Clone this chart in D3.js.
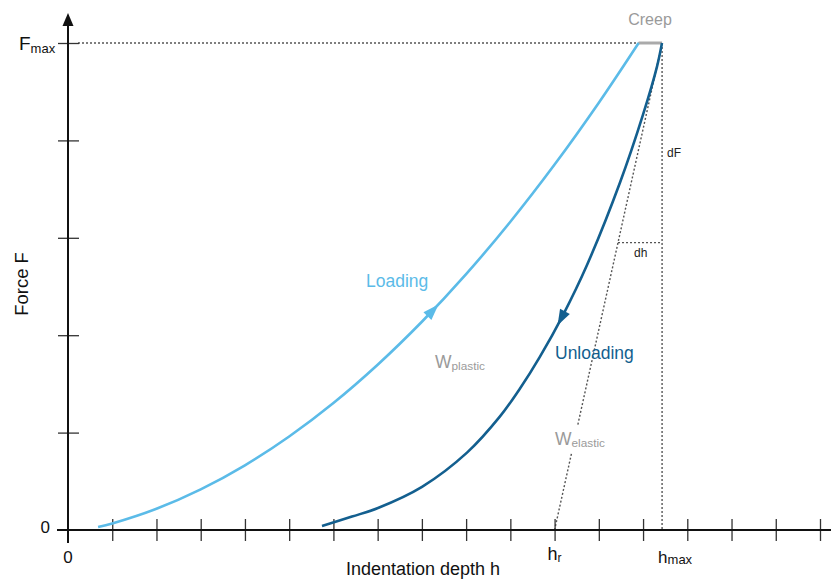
<!DOCTYPE html>
<html>
<head>
<meta charset="utf-8">
<script src="https://cdn.jsdelivr.net/npm/d3@7"></script>
<style>
  html, body { margin: 0; padding: 0; background: #fff; }
  svg { display: block; font-family: "Liberation Sans", Arial, Helvetica, sans-serif; }
</style>
</head>
<body>
<svg id="chart" width="831" height="580"></svg>
<script>
// Indentation depth h (tick units) and force F (Fmax = 5)
const loadingH = [0.68, 1.0, 2.0, 3.0, 4.0, 5.0, 6.0, 7.0, 8.0, 9.0, 10.0, 11.0, 12.0, 12.9];
const loadingF = [0.030, 0.067, 0.218, 0.417, 0.664, 0.960, 1.304, 1.697, 2.138, 2.627, 3.165, 3.752, 4.387, 5.0];
const unloadingH = [5.742, 6.420, 7.008, 8.003, 9.020, 9.766, 10.218, 10.670, 11.190, 11.733, 12.479, 12.999, 13.315, 13.428];
const unloadingF = [0.041, 0.138, 0.226, 0.443, 0.794, 1.166, 1.452, 1.780, 2.207, 2.721, 3.568, 4.265, 4.758, 5.0];
const xTicks = [1, 2, 3, 4, 5, 6, 7, 8, 9, 10, 11, 12, 13, 14, 15, 16, 17];
const yTicks = [1, 2, 3, 4, 5];
const Fmax = 5;
const hmax = 13.43;
const hr = 11.0;
const creepStart = 12.9;
const dhLevel = 2.95;

const svg = d3.select("#chart");
const x = d3.scaleLinear().domain([0, 17]).range([68, 820]);
const y = d3.scaleLinear().domain([0, 5]).range([530, 43]);

const cLoad = "#5bbbe8", cUnload = "#135f8f", cGray = "#9a9a9a", cDot = "#555";

// Reference guides
function dotted(x1, y1, x2, y2) {
  svg.append("line")
    .attr("x1", x1).attr("y1", y1).attr("x2", x2).attr("y2", y2)
    .attr("stroke", cDot).attr("stroke-width", 1.4).attr("stroke-dasharray", "2,2");
}
dotted(x(0) + 10, y(Fmax), x(creepStart), y(Fmax));
dotted(x(hmax), y(Fmax), x(hmax), y(0));
// tangent to unloading at hmax, meeting the axis at hr
dotted(x(hr), y(0), x(hmax), y(Fmax));
const hAtDh = hr + (hmax - hr) * dhLevel / Fmax;
dotted(x(hAtDh), y(dhLevel), x(hmax), y(dhLevel));

// Creep segment
svg.append("line")
  .attr("x1", x(creepStart)).attr("x2", x(hmax))
  .attr("y1", y(Fmax)).attr("y2", y(Fmax))
  .attr("stroke", "#aaa").attr("stroke-width", 3);

// Axes
const xAxis = d3.axisBottom(x).tickValues(xTicks).tickSize(22).tickFormat("");
const gx = svg.append("g").attr("transform", `translate(0,${y(0) - 11})`).call(xAxis);
gx.select(".domain").remove();
gx.selectAll(".tick line").attr("stroke", "#333").attr("stroke-width", 1.3);

const yAxis = d3.axisLeft(y).tickValues(yTicks).tickSize(21).tickFormat("");
const gy = svg.append("g").attr("transform", `translate(${x(0) + 11},0)`).call(yAxis);
gy.select(".domain").remove();
gy.selectAll(".tick line").attr("stroke", "#333").attr("stroke-width", 1.3);

svg.append("line").attr("x1", 57).attr("x2", 831).attr("y1", y(0)).attr("y2", y(0))
  .attr("stroke", "#111").attr("stroke-width", 2);
svg.append("line").attr("x1", x(0)).attr("x2", x(0)).attr("y1", 24).attr("y2", 543)
  .attr("stroke", "#111").attr("stroke-width", 2);
svg.append("path")
  .attr("d", `M${x(0)},13 L${x(0) - 5.5},26 L${x(0) + 5.5},26 Z`)
  .attr("fill", "#111");

// Curves
const line = d3.line().x(d => x(d[0])).y(d => y(d[1])).curve(d3.curveCatmullRom.alpha(0.5));
const loadPts = loadingH.map((h, i) => [h, loadingF[i]]);
const unloadPts = unloadingH.map((h, i) => [h, unloadingF[i]]);

const loadPath = svg.append("path").attr("d", line(loadPts))
  .attr("fill", "none").attr("stroke", cLoad).attr("stroke-width", 2.6);
const unloadPath = svg.append("path").attr("d", line(unloadPts))
  .attr("fill", "none").attr("stroke", cUnload).attr("stroke-width", 2.6);

// Direction arrows placed on the curves
function arrowAt(pathSel, targetH, color, reverse) {
  const node = pathSel.node();
  const total = node.getTotalLength();
  const tx = x(targetH);
  let lo = 0, hi = total;
  for (let i = 0; i < 40; i++) {
    const mid = (lo + hi) / 2;
    if (node.getPointAtLength(mid).x < tx) lo = mid; else hi = mid;
  }
  const L = (lo + hi) / 2;
  const p0 = node.getPointAtLength(Math.max(0, L - 3));
  const p1 = node.getPointAtLength(Math.min(total, L + 3));
  let ang = Math.atan2(p1.y - p0.y, p1.x - p0.x) * 180 / Math.PI;
  if (reverse) ang += 180;
  const p = node.getPointAtLength(L);
  svg.append("path")
    .attr("d", "M8,0 L-8,-5.5 L-8,5.5 Z")
    .attr("fill", color)
    .attr("transform", `translate(${p.x},${p.y}) rotate(${ang})`);
}
arrowAt(loadPath, 8.25, cLoad, false);
arrowAt(unloadPath, 11.15, cUnload, true);

// Labels
function sub(xp, yp, main, subTxt, size, subSize, color, dy) {
  const t = svg.append("text").attr("x", xp).attr("y", yp)
    .attr("font-size", size).attr("fill", color);
  t.append("tspan").text(main);
  t.append("tspan").attr("font-size", subSize).attr("dy", dy).text(subTxt);
  return t;
}

sub(19, 50, "F", "max", 19, 13, "#111", 3);
svg.append("text").attr("x", 50).attr("y", 533).attr("text-anchor", "end")
  .attr("font-size", 17).attr("fill", "#111").text("0");
svg.append("text").attr("x", x(0)).attr("y", 563).attr("text-anchor", "middle")
  .attr("font-size", 17).attr("fill", "#111").text("0");
sub(x(hr) - 7, 560, "h", "r", 18, 12, "#111", 2);
sub(x(hmax) - 4, 563, "h", "max", 17, 13, "#111", 1);

svg.append("text").attr("x", 650).attr("y", 25).attr("text-anchor", "middle")
  .attr("font-size", 16).attr("fill", cGray).text("Creep");

svg.append("text").attr("x", 366).attr("y", 287)
  .attr("font-size", 17.5).attr("fill", cLoad).text("Loading");
svg.append("text").attr("x", 555).attr("y", 359)
  .attr("font-size", 17.5).attr("fill", cUnload).text("Unloading");

sub(435, 368, "W", "plastic", 17.5, 11.8, cGray, 2);
// white backing so the tangent line breaks around the label
svg.append("rect").attr("x", 553).attr("y", 426).attr("width", 54).attr("height", 26).attr("fill", "#fff");
sub(555, 445, "W", "elastic", 17.5, 11.8, cGray, 2);

svg.append("text").attr("x", 667).attr("y", 157)
  .attr("font-size", 12).attr("fill", "#222").text("dF");
svg.append("text").attr("x", 634).attr("y", 257)
  .attr("font-size", 12).attr("fill", "#222").text("dh");

svg.append("text").attr("x", 423).attr("y", 575).attr("text-anchor", "middle")
  .attr("font-size", 18).attr("fill", "#111").text("Indentation depth h");
svg.append("text")
  .attr("transform", "translate(28,284) rotate(-90)")
  .attr("text-anchor", "middle")
  .attr("font-size", 18.5).attr("fill", "#111").text("Force F");
</script>
</body>
</html>
